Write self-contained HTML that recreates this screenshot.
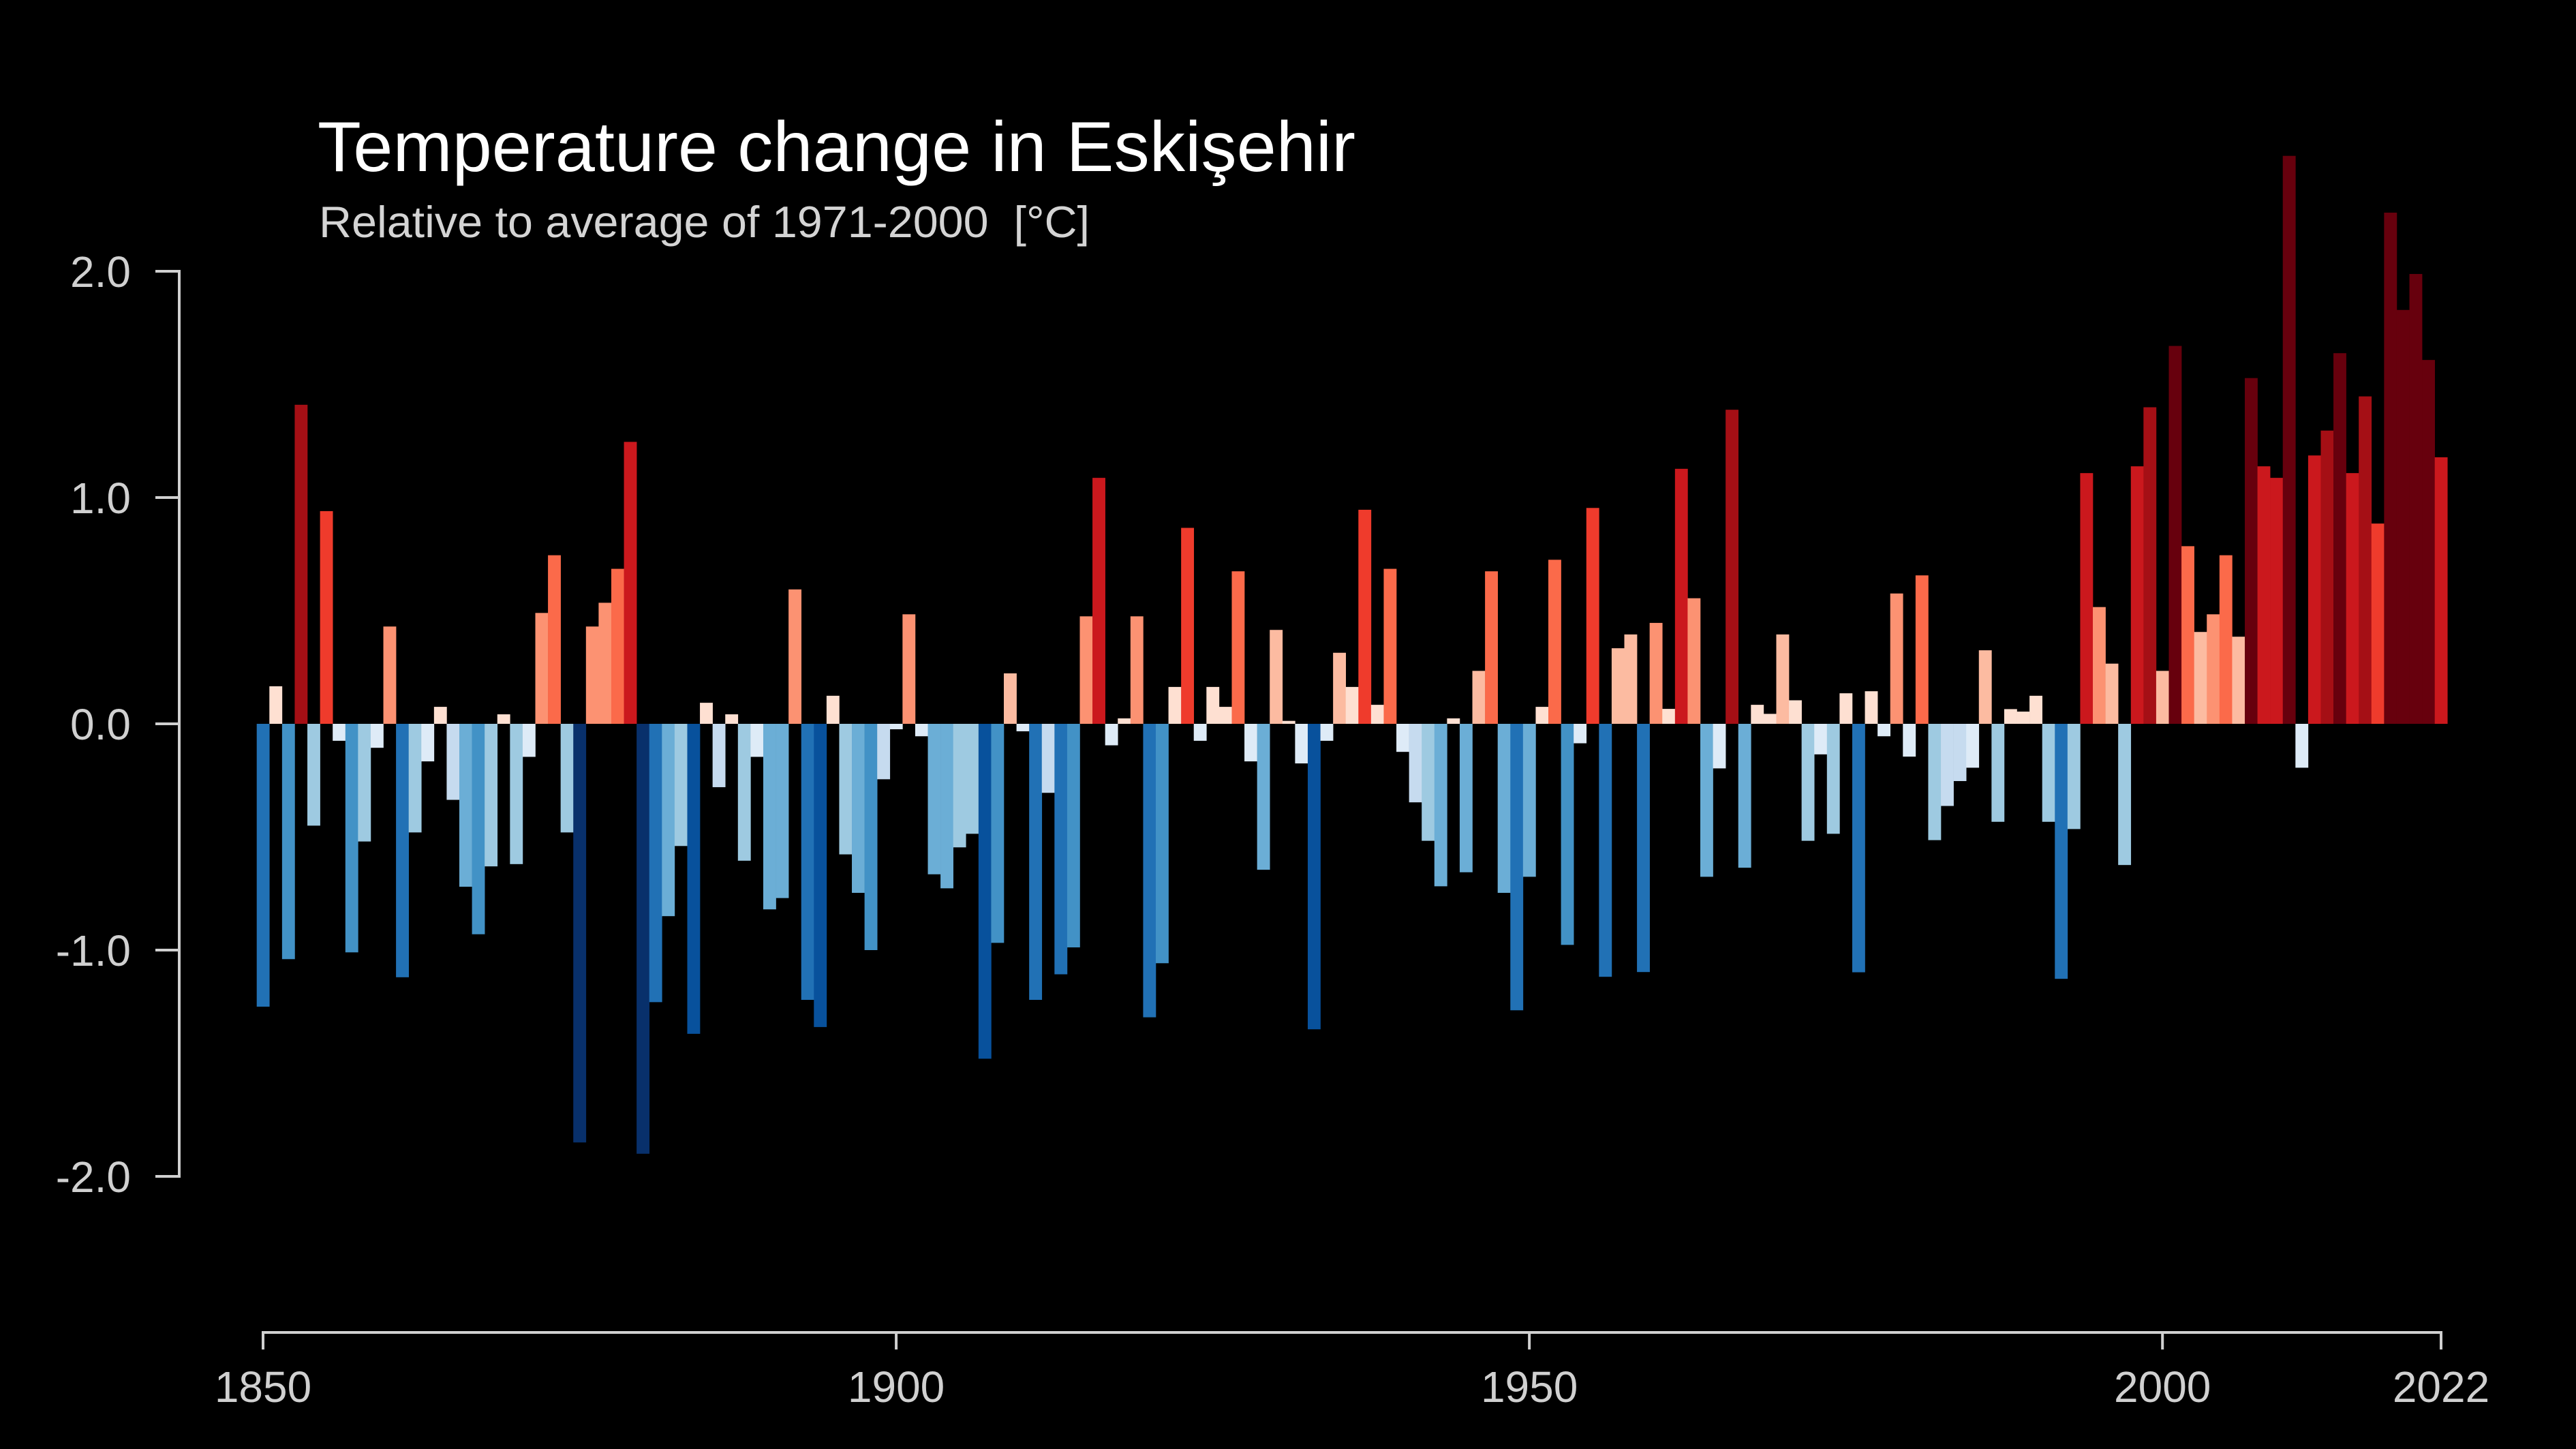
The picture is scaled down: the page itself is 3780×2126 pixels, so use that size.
<!DOCTYPE html>
<html><head><meta charset="utf-8"><style>
html,body{margin:0;padding:0;background:#000;}
svg{display:block;}
text{font-family:"Liberation Sans",Arial,sans-serif;}
</style></head><body>
<svg id="chart" width="3780" height="2126" viewBox="0 0 3780 2126" xmlns="http://www.w3.org/2000/svg">
<rect x="0" y="0" width="3780" height="2126" fill="#000"/>
<text x="466" y="251" font-size="104" fill="#ffffff" textLength="1523" lengthAdjust="spacingAndGlyphs">Temperature change in Eskişehir</text>
<text x="468" y="348" font-size="65" fill="#d4d4d4" textLength="1131" lengthAdjust="spacingAndGlyphs">Relative to average of 1971-2000&#160; [°C]</text>
<g id="bars"></g>
<g id="yaxis"></g>
<g id="xaxis"></g>
</svg>
<script>
const startYear = 1850;
const anomalies = [
-1.25,0.166,-1.04,1.41,-0.45,0.94,-0.075,-1.01,-0.52,-0.106,
0.43,-1.12,-0.48,-0.166,0.075,-0.336,-0.72,-0.93,-0.63,0.042,
-0.62,-0.146,0.49,0.745,-0.48,-1.85,0.43,0.535,0.685,1.246,
-1.9,-1.23,-0.85,-0.54,-1.37,0.093,-0.28,0.042,-0.605,-0.146,
-0.82,-0.77,0.594,-1.22,-1.34,0.124,-0.577,-0.747,-1.0,-0.245,
-0.024,0.484,-0.055,-0.665,-0.727,-0.546,-0.486,-1.48,-0.968,0.223,
-0.033,-1.22,-0.305,-1.107,-0.988,0.475,1.087,-0.095,0.024,0.475,
-1.297,-1.058,0.163,0.866,-0.075,0.163,0.075,0.674,-0.166,-0.645,
0.415,0.013,-0.175,-1.35,-0.075,0.314,0.163,0.946,0.084,0.685,
-0.124,-0.347,-0.517,-0.718,0.024,-0.656,0.234,0.674,-0.747,-1.266,
-0.676,0.075,0.725,-0.977,-0.086,0.954,-1.118,0.334,0.395,-1.097,
0.446,0.066,1.127,0.555,-0.676,-0.197,1.388,-0.636,0.084,0.044,
0.395,0.104,-0.517,-0.135,-0.486,0.135,-1.098,0.144,-0.055,0.576,
-0.145,0.656,-0.514,-0.363,-0.253,-0.194,0.325,-0.433,0.065,0.054,
0.124,-0.433,-1.127,-0.465,1.108,0.516,0.266,-0.624,1.138,1.399,
0.234,1.67,0.785,0.406,0.484,0.745,0.385,1.528,1.138,1.087,
2.51,-0.194,1.186,1.296,1.638,1.108,1.447,0.885,2.259,1.829,
1.988,1.608,1.178
];
const yTickValues = [2.0, 1.0, 0.0, -1.0, -2.0];
const yTickLabels = ["2.0", "1.0", "0.0", "-1.0", "-2.0"];
const xTickYears = [1850, 1900, 1950, 2000, 2022];
const xTickLabels = ["1850", "1900", "1950", "2000", "2022"];

const NS = "http://www.w3.org/2000/svg";
const endYear = startYear + anomalies.length - 1;
const X0 = 386, X1 = 3582;
const Y0 = 1062, UNIT = 332;
function xScale(year){ return X0 + (year - startYear) * (X1 - X0) / (2022 - 1850); }
function yScale(v){ return Y0 - v * UNIT; }
const bw = (X1 - X0) / (2022 - 1850);

function colorFor(v){
  if (v >= 0){
    if (v > 1.5) return "#67000d";
    if (v > 1.27) return "#a50f15";
    if (v > 1.0) return "#cb181d";
    if (v > 0.8) return "#ef3b2c";
    if (v > 0.65) return "#fb6a4a";
    if (v > 0.42) return "#fc9272";
    if (v > 0.2) return "#fcbba1";
    return "#fee0d2";
  } else {
    if (v < -1.6) return "#08306b";
    if (v < -1.33) return "#08519c";
    if (v < -1.07) return "#2171b5";
    if (v < -0.88) return "#4292c6";
    if (v < -0.63) return "#6baed6";
    if (v < -0.4) return "#9ecae1";
    if (v < -0.2) return "#c6dbef";
    return "#deebf7";
  }
}

const barsG = document.getElementById("bars");
anomalies.forEach(function(v, i){
  const yr = startYear + i;
  const r = document.createElementNS(NS, "rect");
  const top = Math.min(yScale(v), yScale(0));
  const h = Math.abs(yScale(v) - yScale(0));
  r.setAttribute("x", (xScale(yr) - bw/2).toFixed(2));
  r.setAttribute("y", top.toFixed(2));
  r.setAttribute("width", (bw + 0.3).toFixed(2));
  r.setAttribute("height", Math.max(h, 0.5).toFixed(2));
  r.setAttribute("fill", colorFor(v));
  
  
  barsG.appendChild(r);
});

const axisColor = "#d0d0d0";
const yG = document.getElementById("yaxis");
const yl = document.createElementNS(NS, "line");
yl.setAttribute("x1", 263); yl.setAttribute("x2", 263);
yl.setAttribute("y1", yScale(yTickValues[0])); yl.setAttribute("y2", yScale(yTickValues[yTickValues.length-1]));
yl.setAttribute("stroke", axisColor); yl.setAttribute("stroke-width", 4);


yG.appendChild(yl);
yTickValues.forEach(function(v, i){
  const t = document.createElementNS(NS, "line");
  t.setAttribute("x1", 228); t.setAttribute("x2", 265);
  t.setAttribute("y1", yScale(v)); t.setAttribute("y2", yScale(v));
  t.setAttribute("stroke", axisColor); t.setAttribute("stroke-width", 4);
  
  
  yG.appendChild(t);
  const lb = document.createElementNS(NS, "text");
  lb.setAttribute("x", 192); lb.setAttribute("y", yScale(v) + 23);
  lb.setAttribute("text-anchor", "end"); lb.setAttribute("font-size", 64);
  lb.setAttribute("fill", axisColor);
  lb.textContent = yTickLabels[i];
  
  
  yG.appendChild(lb);
});

const xG = document.getElementById("xaxis");
const xl = document.createElementNS(NS, "line");
xl.setAttribute("x1", xScale(startYear) - 2); xl.setAttribute("x2", xScale(endYear) + 2);
xl.setAttribute("y1", 1955); xl.setAttribute("y2", 1955);
xl.setAttribute("stroke", axisColor); xl.setAttribute("stroke-width", 4);


xG.appendChild(xl);
xTickYears.forEach(function(yr, i){
  const t = document.createElementNS(NS, "line");
  t.setAttribute("x1", xScale(yr)); t.setAttribute("x2", xScale(yr));
  t.setAttribute("y1", 1953); t.setAttribute("y2", 1980);
  t.setAttribute("stroke", axisColor); t.setAttribute("stroke-width", 4);
  
  
  xG.appendChild(t);
  const lb = document.createElementNS(NS, "text");
  lb.setAttribute("x", xScale(yr)); lb.setAttribute("y", 2057);
  lb.setAttribute("text-anchor", "middle"); lb.setAttribute("font-size", 64);
  lb.setAttribute("fill", axisColor);
  lb.textContent = xTickLabels[i];
  
  
  xG.appendChild(lb);
});
</script>
</body></html>
